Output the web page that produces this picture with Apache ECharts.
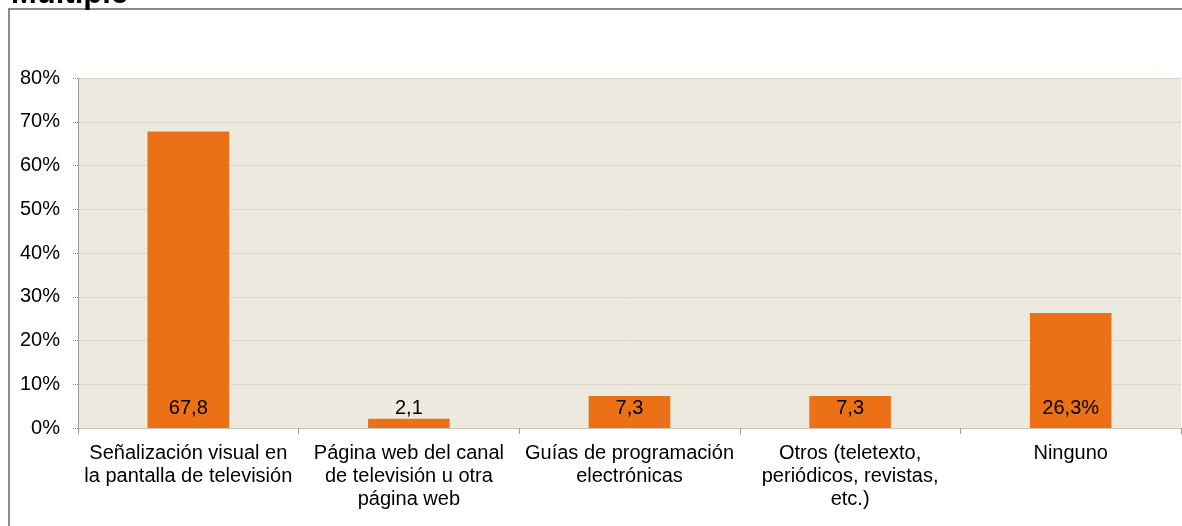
<!DOCTYPE html>
<html>
<head>
<meta charset="utf-8">
<script src="https://cdn.jsdelivr.net/npm/echarts@6/dist/echarts.min.js"></script>
<style>
  html, body { margin: 0; padding: 0; background: #fff; }
  #chart { width: 1182px; height: 526px; }
</style>
</head>
<body>
<div id="chart"></div>
<script>
  const categories = [
    'Señalización visual en\nla pantalla de televisión',
    'Página web del canal\nde televisión u otra\npágina web',
    'Guías de programación\nelectrónicas',
    'Otros (teletexto,\nperiódicos, revistas,\netc.)',
    'Ninguno'
  ]
  const values = [67.8, 2.1, 7.3, 7.3, 26.3]
  const valueLabels = ['67,8', '2,1', '7,3', '7,3', '26,3%']
  const yTicks = [0, 10, 20, 30, 40, 50, 60, 70, 80]

  const FONT = '"Liberation Sans", Arial, sans-serif'
  const chart = echarts.init(document.getElementById('chart'))

  const seriesData = values.map((v, i) => {
    // short bars get their label above the bar, like the original
    const tooShort = v < 5
    return {
      value: v,
      label: {
        position: tooShort ? 'top' : 'insideBottom',
        distance: tooShort ? 0 : 10,
        formatter: valueLabels[i]
      }
    }
  })

  chart.setOption({
    animation: false,
    title: {
      text: 'Multiple',
      left: 6,
      top: -26,
      textStyle: { fontFamily: FONT, fontSize: 31, fontWeight: 'bold', color: '#000' }
    },
    graphic: [{
      type: 'rect',
      shape: { x: 9, y: 9, width: 1180, height: 530 },
      style: { fill: 'none', stroke: '#8a8a8a', lineWidth: 2 },
      silent: true
    }],
    grid: {
      left: 78,
      right: 1,
      top: 78,
      bottom: 98,
      show: true,
      backgroundColor: '#ECE9DF',
      borderWidth: 0
    },
    xAxis: {
      type: 'category',
      data: categories,
      axisLine: { show: true, lineStyle: { color: '#c8c4b8', width: 1 } },
      axisTick: { show: true, length: 6, lineStyle: { color: '#9a9a9a' } },
      axisLabel: {
        interval: 0,
        color: '#000',
        fontFamily: FONT,
        fontSize: 20,
        lineHeight: 23,
        margin: 14
      }
    },
    yAxis: {
      type: 'value',
      min: yTicks[0],
      max: yTicks[yTicks.length - 1],
      interval: 10,
      axisLine: { show: true, lineStyle: { color: '#8a8a8a', type: 'dotted', width: 1 } },
      axisTick: { show: true, length: 6, lineStyle: { color: '#8a8a8a', type: 'dotted' } },
      splitLine: { show: true, lineStyle: { color: '#DCD8C8', width: 1 } },
      axisLabel: {
        formatter: '{value}%',
        color: '#000',
        fontFamily: FONT,
        fontSize: 20,
        margin: 18
      }
    },
    series: [{
      type: 'bar',
      data: seriesData,
      barWidth: '37%',
      itemStyle: { color: '#EC7016' },
      label: {
        show: true,
        color: '#000',
        fontFamily: FONT,
        fontSize: 20
      }
    }]
  })
</script>
</body>
</html>
